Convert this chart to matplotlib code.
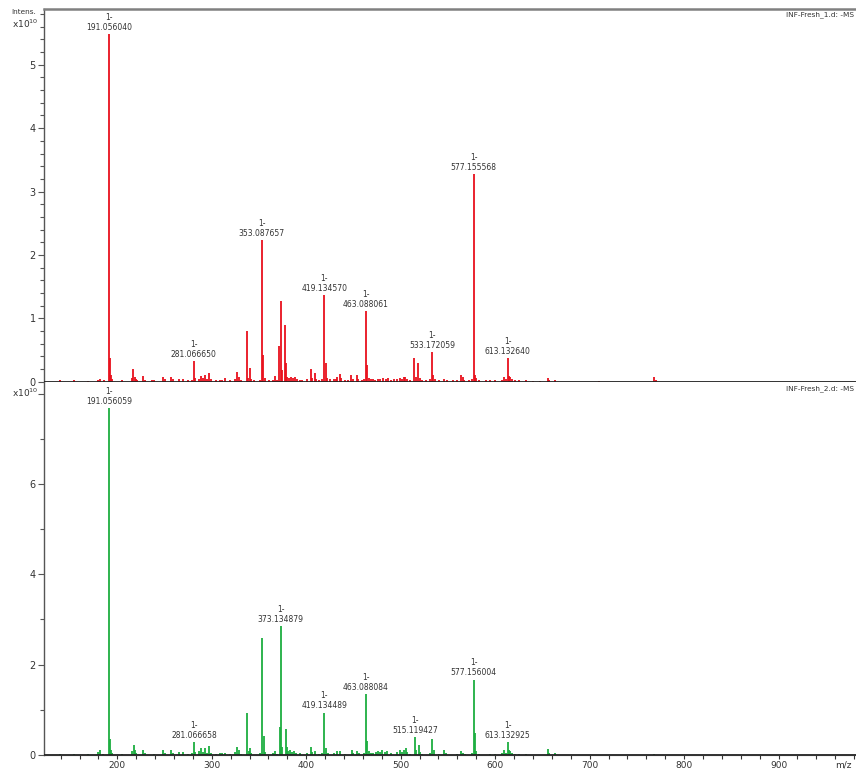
"""
Two negative-mode MS spectra (INF-Fresh_1 / INF-Fresh_2) stacked, stick plot
"""
import numpy as np
import matplotlib
matplotlib.use("Agg")
import matplotlib.pyplot as plt
from matplotlib.ticker import MultipleLocator, FixedLocator

# peak lists, intensity in units of 1e10
mz_fresh1 = [139.5, 154, 169, 180, 182, 186, 191.056, 192.06, 193.0, 194, 205,
             215.5, 217.0, 218.5, 219.5, 221, 227, 229, 237, 239, 248.6, 250,
             257, 258.5, 265, 270, 275, 279, 281.067, 282, 287, 289, 291, 293.3,
             295, 297.5, 299, 305, 309, 311, 314, 319, 325, 327, 328.5, 331,
             337.1, 338.5, 340.7, 342, 345, 351, 353.088, 354.6, 356, 361, 365,
             367, 369, 371.5, 373.1, 374.5, 377.3, 378.8, 380, 382, 384, 386,
             388, 390, 393, 396, 401, 404.6, 406, 408.9, 410.5, 413, 417,
             419.135, 420.6, 422, 425, 429, 431, 433, 435.5, 437, 441, 444,
             447.9, 449.5, 453.5, 455, 459, 461, 463.088, 464.5, 466, 469, 471,
             473, 476, 478, 481, 484, 487, 490, 493, 496, 499, 501, 503, 505,
             507, 510, 514.5, 516, 518.7, 520, 523, 527, 531, 533.172, 534.5,
             536, 541, 546, 549, 555, 560, 563.8, 565.5, 567, 572, 575, 577.156,
             578.5, 580, 583, 590, 595, 600, 607, 609.6, 611, 613.133, 614.5,
             616, 618, 621, 625, 633, 640, 648, 655.6, 657, 663, 710, 768.5, 770]
int_fresh1 = [0.03, 0.02, 0.015, 0.03, 0.05, 0.02, 5.48, 0.37, 0.1, 0.04, 0.02,
              0.06, 0.2, 0.07, 0.05, 0.03, 0.09, 0.03, 0.02, 0.02, 0.08, 0.04,
              0.08, 0.04, 0.04, 0.04, 0.02, 0.03, 0.32, 0.06, 0.05, 0.09, 0.06, 0.11,
              0.04, 0.13, 0.04, 0.02, 0.03, 0.02, 0.06, 0.02, 0.05, 0.16, 0.08, 0.03,
              0.8, 0.06, 0.22, 0.05, 0.02, 0.03, 2.23, 0.42, 0.06, 0.02, 0.03,
              0.09, 0.03, 0.56, 1.28, 0.18, 0.9, 0.3, 0.08, 0.06, 0.08, 0.06,
              0.07, 0.04, 0.03, 0.03, 0.04, 0.2, 0.06, 0.13, 0.05, 0.03, 0.04,
              1.37, 0.3, 0.06, 0.04, 0.05, 0.04, 0.07, 0.12, 0.06, 0.03, 0.03,
              0.1, 0.04, 0.1, 0.04, 0.03, 0.05, 1.11, 0.26, 0.06, 0.04, 0.05,
              0.03, 0.05, 0.04, 0.06, 0.04, 0.06, 0.03, 0.04, 0.05, 0.06, 0.04, 0.07, 0.08,
              0.05, 0.03, 0.37, 0.07, 0.3, 0.06, 0.03, 0.02, 0.04, 0.47, 0.1,
              0.04, 0.03, 0.05, 0.02, 0.02, 0.03, 0.11, 0.07, 0.03, 0.02, 0.04, 3.27,
              0.1, 0.06, 0.03, 0.02, 0.02, 0.02, 0.03, 0.07, 0.04, 0.37, 0.09,
              0.08, 0.04, 0.03, 0.02, 0.02, 0.015, 0.015, 0.06, 0.02, 0.03, 0.01, 0.07, 0.02]

mz_fresh2 = [139.5, 154, 169, 180, 182, 185, 191.056, 192.06, 193, 194, 205,
             216, 217.2, 218.5, 220, 227, 229, 239, 248.6, 250, 257, 258.5, 265,
             270, 275, 279, 281.067, 282.5, 287, 289, 291, 293.3, 295, 297.5, 299,
             305, 309, 311, 314, 319, 325, 327, 328.5, 331, 337.5, 339, 340.9,
             342, 351, 353.09, 354.8, 356, 365, 367, 369, 371.9, 373.135, 374.8,
             378.2, 379.5, 381, 383, 385, 387, 389, 393, 401, 405, 406.5, 409,
             413, 417, 419.134, 420.6, 423, 429, 433, 435.5, 441, 448, 449.5,
             454, 455.5, 461, 463.088, 464.5, 466, 469, 471, 474, 476, 478, 480,
             483, 486, 490, 496, 499, 501, 503, 505.5, 507, 510, 515.119, 516.5,
             518.9, 520, 523, 531, 533.6, 535, 541, 546, 547.5, 560, 564, 565.5,
             568, 575, 577.156, 578.5, 580, 583, 595, 600, 607, 609.6, 611,
             613.133, 614.5, 616, 618, 621, 625, 633, 655.6, 657, 663, 768.5]
int_fresh2 = [0.02, 0.03, 0.015, 0.06, 0.1, 0.03, 7.68, 0.35, 0.12, 0.04, 0.02,
              0.08, 0.22, 0.1, 0.05, 0.12, 0.04, 0.02, 0.12, 0.05, 0.12, 0.05, 0.06,
              0.07, 0.03, 0.04, 0.29, 0.06, 0.08, 0.15, 0.06, 0.15, 0.05, 0.2, 0.05,
              0.03, 0.05, 0.04, 0.05, 0.02, 0.06, 0.17, 0.1, 0.03, 0.92, 0.08, 0.15,
              0.05, 0.04, 2.6, 0.42, 0.06, 0.04, 0.08, 0.03, 0.61, 2.85, 0.18,
              0.58, 0.18, 0.08, 0.1, 0.07, 0.08, 0.05, 0.04, 0.04, 0.17, 0.06, 0.08,
              0.03, 0.04, 0.94, 0.15, 0.05, 0.05, 0.08, 0.08, 0.03, 0.1, 0.04,
              0.08, 0.04, 0.05, 1.35, 0.3, 0.08, 0.05, 0.05, 0.06, 0.08, 0.07, 0.1,
              0.06, 0.08, 0.04, 0.06, 0.1, 0.06, 0.12, 0.15, 0.06, 0.03, 0.39, 0.1,
              0.22, 0.07, 0.03, 0.04, 0.35, 0.1, 0.03, 0.1, 0.04, 0.03, 0.09, 0.05,
              0.03, 0.04, 1.67, 0.48, 0.08, 0.03, 0.02, 0.02, 0.04, 0.1, 0.04,
              0.29, 0.1, 0.08, 0.05, 0.03, 0.02, 0.02, 0.13, 0.05, 0.04, 0.03]

# annotated peaks
labels_fresh1 = ["191.056040", "281.066650", "353.087657", "419.134570",
                 "463.088061", "533.172059", "577.155568", "613.132640"]
labels_fresh2 = ["191.056059", "281.066658", "373.134879", "419.134489",
                 "463.088084", "515.119427", "577.156004", "613.132925"]

XMIN, XMAX = 122.4, 982.0
TXT = "#333333"


def style_axis(ax, ymax, ymaj, ymin_step):
    ax.set_xlim(XMIN, XMAX)
    ax.set_ylim(0, ymax)
    ax.yaxis.set_major_locator(MultipleLocator(ymaj))
    ax.yaxis.set_minor_locator(MultipleLocator(ymin_step))
    ax.tick_params(axis="y", which="major", direction="out", length=4,
                   width=0.8, color="#555555", labelsize=7, labelcolor=TXT, pad=2)
    ax.tick_params(axis="y", which="minor", direction="out", length=3,
                   width=0.8, color="#555555")
    ax.spines["right"].set_visible(False)
    ax.spines["left"].set_color("#555555")
    ax.spines["left"].set_linewidth(1.0)


def plot_spectrum(ax, mz, ints, labels, color, name):
    mz = np.array(mz)
    ints = np.array(ints)
    ax.vlines(mz, 0, ints, color=color, lw=1.3, zorder=2)
    ax.axhline(0, color="#222222", lw=1.3, zorder=3)
    for lab in labels:
        i = np.argmin(np.abs(mz - float(lab)))
        ax.annotate("1-\n" + lab, xy=(mz[i], ints[i]), xytext=(0, 1.5),
                    textcoords="offset points", ha="center", va="bottom",
                    fontsize=5.5, color=TXT, linespacing=1.15)
    ax.text(0.997, 0.993, name, transform=ax.transAxes, ha="right", va="top",
            fontsize=5.3, color=TXT)


fig = plt.figure(figsize=(8.56, 7.70), dpi=100)
ax1 = fig.add_axes([0.0514, 0.5043, 0.9486, 0.4840])
ax2 = fig.add_axes([0.0514, 0.0195, 0.9486, 0.4835])

# top spectrum
style_axis(ax1, 5.88, 1, 0.2)
ax1.spines["top"].set_color("#808080")
ax1.spines["top"].set_linewidth(1.8)
ax1.spines["bottom"].set_visible(False)
ax1.tick_params(axis="x", which="both", bottom=False, labelbottom=False)
plot_spectrum(ax1, mz_fresh1, int_fresh1, labels_fresh1, "#e8101c",
              "INF-Fresh_1.d: -MS")

# bottom spectrum
style_axis(ax2, 8.24, 2, 1)
ax2.yaxis.set_major_locator(FixedLocator([0, 2, 4, 6, 8]))
ax2.set_yticklabels(["0", "2", "4", "6", ""])
ax2.spines["top"].set_visible(False)
ax2.spines["bottom"].set_color("#333333")
ax2.xaxis.set_major_locator(MultipleLocator(100))
ax2.xaxis.set_minor_locator(MultipleLocator(20))
ax2.tick_params(axis="x", which="both", direction="out", length=3,
                width=0.8, color="#333333", labelsize=6.5, labelcolor=TXT, pad=1)
plot_spectrum(ax2, mz_fresh2, int_fresh2, labels_fresh2, "#1cae40",
              "INF-Fresh_2.d: -MS")

# axis captions
fig.text(36 / 856, 1 - 12 / 770, "Intens.", ha="right", va="center",
         fontsize=5.3, color=TXT)
fig.text(38 / 856, 1 - 24 / 770, r"x10$^{10}$", ha="right", va="center",
         fontsize=6.5, color=TXT)
fig.text(38 / 856, 1 - 387 / 770, r"x10$^{10}$", ha="right", va="top",
         fontsize=6.5, color=TXT)
fig.text(843 / 856, 1 - 765 / 770, "m/z", ha="center", va="center",
         fontsize=6.5, color=TXT)

fig.savefig("out.png", dpi=100)
